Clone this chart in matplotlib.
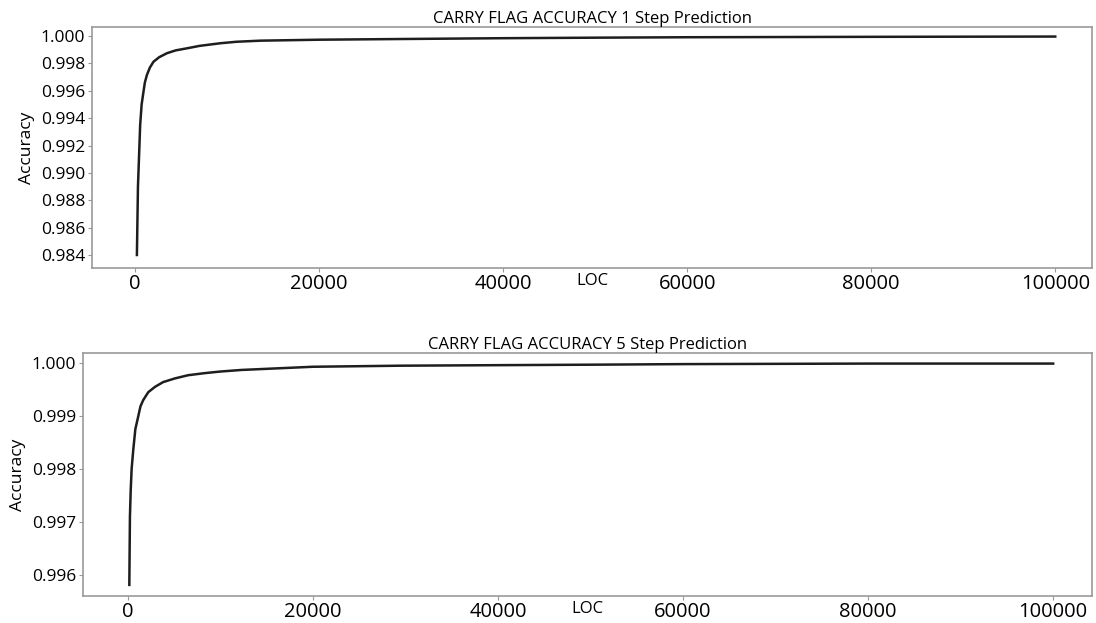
import matplotlib.pyplot as plt
from matplotlib.ticker import FormatStrFormatter

plt.rcParams["font.family"] = ["Open Sans", "DejaVu Sans"]

# accuracy vs lines of code, 1 step ahead
loc_1 = [185, 300, 540, 700, 900, 1050, 1270, 1600, 1990, 2600, 3440, 4400,
         5620, 7000, 9240, 11000, 13600, 20000, 28800, 40000, 50500, 60000,
         80000, 100000]
acc_1 = [0.9840, 0.9890, 0.9935, 0.9950, 0.99593, 0.9966, 0.99715, 0.9977,
         0.99812, 0.99845, 0.99874, 0.99895, 0.99910, 0.99928, 0.99947,
         0.99958, 0.99966, 0.99973, 0.99978, 0.99984, 0.99988, 0.99991,
         0.99994, 0.99996]

# accuracy vs lines of code, 5 steps ahead
loc_5 = [150, 216, 300, 400, 575, 800, 1110, 1350, 1650, 2200, 2920, 3800,
         5080, 6500, 8320, 10000, 12300, 20000, 29400, 40000, 51000, 60000,
         80000, 100000]
acc_5 = [0.99581, 0.99710, 0.99760, 0.99800, 0.99836, 0.99875, 0.99899,
         0.99918, 0.99930, 0.99945, 0.99955, 0.99964, 0.99971, 0.99977,
         0.99981, 0.99984, 0.99987, 0.99993, 0.99995, 0.99996, 0.99997,
         0.99998, 0.99999, 0.99999]

xticks = [0, 20000, 40000, 60000, 80000, 100000]

fig = plt.figure(figsize=(10.96, 6.23), dpi=100)
ax1 = fig.add_axes([0.0839, 0.5698, 0.9125, 0.3869])
ax2 = fig.add_axes([0.0757, 0.0433, 0.9207, 0.3901])

panels = [
    (ax1, loc_1, acc_1, "CARRY FLAG ACCURACY 1 Step Prediction",
     (-4700, 104000), (0.98305, 1.00066),
     [0.984 + 0.002 * i for i in range(9)]),
    (ax2, loc_5, acc_5, "CARRY FLAG ACCURACY 5 Step Prediction",
     (-4860, 104200), (0.9956, 1.00019),
     [0.996, 0.997, 0.998, 0.999, 1.000]),
]

for ax, x, y, title, xlim, ylim, yticks in panels:
    ax.plot(x, y, color="#1e1e1e", lw=1.8)
    ax.set_xlim(*xlim)
    ax.set_ylim(*ylim)
    ax.set_xticks(xticks)
    ax.set_yticks(yticks)
    ax.yaxis.set_major_formatter(FormatStrFormatter("%.3f"))
    ax.tick_params(axis="x", labelsize=14.5, length=3, pad=1, color="#999999")
    ax.tick_params(axis="y", labelsize=12.5, length=3, pad=2, color="#999999")
    for s in ax.spines.values():
        s.set_color("#999999")
        s.set_linewidth(1.2)
    ax.set_title(title, fontsize=12, pad=2)
    ax.set_ylabel("Accuracy", fontsize=12.5, labelpad=4)
    ax.text(0.5, -0.02, "LOC", transform=ax.transAxes, ha="center",
            va="top", fontsize=12)

fig.savefig("out.png", dpi=100)
plt.close(fig)
